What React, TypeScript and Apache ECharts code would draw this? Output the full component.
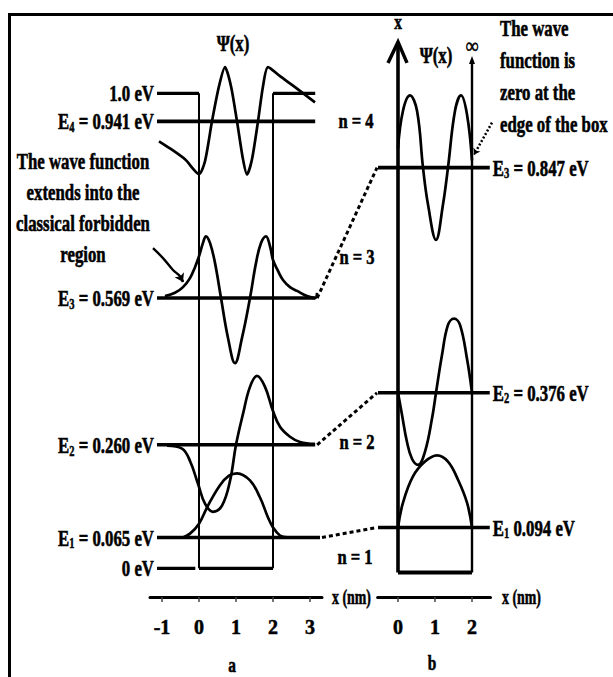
import React, { useEffect, useRef } from "react";
import * as echarts from "echarts";

// ---------- data ----------
// Panel a: finite square well, width 2 nm, barrier 1.0 eV
const barrierA = 1.0;
const wellEdges = [0, 2];
const levelsA = [0.065, 0.26, 0.569, 0.941];
const levelStartA = -1.135;
const levelEndA = [3.27, 3.14, 3.14, 3.14];
const zeroLeftEndA = -0.1;
const ticksA = [-1, 0, 1, 2, 3];

// Panel b: infinite square well, width 2 nm
const levelsB = [0.094, 0.376, 0.847];
const levelSpanB = [-0.54, 2.48];
const ticksB = [0, 1, 2];
const wallTopB = [1.11, 1.072];

// wave functions: [x (nm), offset from its own level (eV units of the drawing)]
const psiA1 = [[-0.432, 0], [-0.243, 0.008], [0, 0.029], [0.243, 0.067], [0.568, 0.11], [0.811, 0.13], [1.027, 0.135], [1.378, 0.12], [1.649, 0.084], [1.865, 0.042], [2, 0.021], [2.189, 0.004], [2.378, 0]];
const psiA2 = [[-0.865, -0.002], [-0.459, -0.008], [-0.243, -0.034], [-0.027, -0.082], [0.162, -0.124], [0.378, -0.141], [0.622, -0.128], [0.838, -0.076], [1.0, 0], [1.189, 0.065], [1.378, 0.122], [1.568, 0.145], [1.784, 0.122], [2, 0.071], [2.189, 0.038], [2.459, 0.017], [2.73, 0.006], [3.135, 0.002]];
const psiA3 = [[-0.919, 0.004], [-0.649, 0.011], [-0.432, 0.023], [-0.243, 0.042], [-0.108, 0.065], [0, 0.088], [0.108, 0.116], [0.189, 0.13], [0.297, 0.116], [0.432, 0.074], [0.595, 0], [0.784, -0.084], [0.973, -0.137], [1.162, -0.084], [1.378, 0], [1.541, 0.074], [1.676, 0.116], [1.811, 0.13], [1.919, 0.109], [2, 0.08], [2.135, 0.057], [2.27, 0.038], [2.459, 0.023], [2.649, 0.015], [2.919, 0.004], [3.135, 0], [3.19, 0.011]];
const psiA4 = [[-1.081, -0.042], [-0.784, -0.057], [-0.378, -0.08], [0, -0.111], [0.162, -0.084], [0.351, 0], [0.541, 0.074], [0.703, 0.114], [0.865, 0.074], [1.027, 0], [1.189, -0.08], [1.297, -0.112], [1.432, -0.08], [1.595, 0], [1.73, 0.074], [1.865, 0.114], [2.189, 0.095], [2.595, 0.072], [3.135, 0.04]];
const psiB1 = [[0, 0], [0.135, 0.052], [0.405, 0.107], [0.73, 0.138], [1.054, 0.151], [1.351, 0.138], [1.622, 0.1], [1.865, 0.052], [2, 0]];
const psiB2 = [[0, 0], [0.108, -0.046], [0.243, -0.103], [0.378, -0.138], [0.541, -0.151], [0.73, -0.123], [0.919, -0.054], [1.027, 0], [1.189, 0.079], [1.351, 0.142], [1.514, 0.155], [1.676, 0.142], [1.865, 0.071], [2, 0]];
const psiB3 = [[0, 0.04], [0.135, 0.119], [0.324, 0.151], [0.514, 0.119], [0.676, 0], [0.811, -0.077], [1.027, -0.151], [1.216, -0.077], [1.351, 0], [1.541, 0.119], [1.703, 0.151], [1.865, 0.111], [2, 0.015]];

// annotation pointers (relative to E3 of each panel)
const regionArrow = [[-0.514, 0.046], [-0.432, 0.034]];
const regionCurve = [[-1.243, 0.105], [-0.973, 0.084], [-0.703, 0.059], [-0.514, 0.046], [-0.432, 0.034]];
const edgePointer = [[2.54, 0.094], [2.054, 0.027]];

const leftNote = ["The wave function", "extends into the", "classical forbidden", "region"];
const rightNote = ["The wave", "function is", "zero at the", "edge of the box"];
const levelSepB = [" ", " = ", " = "];

// ---------- layout ----------
const W = 613;
const H = 677;
const GRID_TOP = 30;
const AXIS_Y = 597;
const A_LEFT = 150, A_WIDTH = 172, A_XMIN = -1.324, A_XMAX = 3.324, A_ZERO = 568.3, A_PX = 475;
const B_LEFT = 377.65, B_WIDTH = 112.85, B_XMIN = -0.55, B_XMAX = 2.5, B_ZERO = 572.5, B_PX = 478;

const FONT = "'Liberation Serif', 'Times New Roman', serif";
const SX = 0.7;
const WAVE_W = 2.7;

function lineS(data: number[][], width: number, gi: number, extra: any = {}) {
  return {
    type: "line",
    xAxisIndex: gi,
    yAxisIndex: gi,
    data,
    symbol: "none",
    showSymbol: false,
    silent: true,
    lineStyle: { color: "#000", width },
    z: 3,
    ...extra,
  };
}

function buildOption() {
  const series: any[] = [];
  // panel a
  levelsA.forEach((e, i) => series.push(lineS([[levelStartA, e], [levelEndA[i], e]], 3.6, 0)));
  series.push(lineS([[levelStartA, barrierA], [wellEdges[0], barrierA]], 3.2, 0));
  series.push(lineS([[wellEdges[1], barrierA], [levelEndA[3], barrierA]], 3.2, 0));
  series.push(lineS([[wellEdges[0], barrierA], [wellEdges[0], 0]], 2, 0));
  series.push(lineS([[wellEdges[1], 0], [wellEdges[1], barrierA]], 2, 0));
  series.push(lineS([[wellEdges[0], 0], [wellEdges[1], 0]], 3.2, 0));
  series.push(lineS([[levelStartA, 0], [zeroLeftEndA, 0]], 3.2, 0));
  [psiA1, psiA2, psiA3, psiA4].forEach((p, i) =>
    series.push(lineS(p.map(([x, d]) => [x, levelsA[i] + d]), WAVE_W, 0, { smooth: i === 3 ? 0.25 : 0.4 }))
  );
  series.push(lineS(regionCurve.map(([x, d]) => [x, levelsA[2] + d]), 2.4, 0, { smooth: 0.4 }));
  series.push({
    type: "lines",
    coordinateSystem: "cartesian2d",
    xAxisIndex: 0,
    yAxisIndex: 0,
    silent: true,
    clip: false,
    symbol: ["none", "arrow"],
    symbolSize: 8,
    lineStyle: { color: "#000", width: 2.4, opacity: 1 },
    data: [{ coords: regionArrow.map(([x, d]) => [x, levelsA[2] + d]) }],
    z: 4,
  });
  // panel b
  levelsB.forEach((e) => series.push(lineS([[levelSpanB[0], e], [levelSpanB[1], e]], 3.6, 1)));
  series.push(lineS([[wellEdges[0], 0], [wellEdges[0], wallTopB[0]]], 3.6, 1));
  series.push(lineS([[wellEdges[1], 0], [wellEdges[1], wallTopB[1]]], 2.4, 1));
  series.push(lineS([[wellEdges[0], 0], [wellEdges[1], 0]], 3.8, 1));
  [psiB1, psiB2, psiB3].forEach((p, i) =>
    series.push(lineS(p.map(([x, d]) => [x, levelsB[i] + d]), WAVE_W, 1, { smooth: 0.4 }))
  );
  series.push({
    type: "lines",
    coordinateSystem: "cartesian2d",
    xAxisIndex: 1,
    yAxisIndex: 1,
    silent: true,
    clip: false,
    symbol: ["none", "arrow"],
    symbolSize: 6,
    lineStyle: { color: "#000", width: 2.5, type: [2, 2], opacity: 1 },
    data: [{ coords: edgePointer.map(([x, d]) => [x, levelsB[2] + d]) }],
    z: 4,
  });

  const xAxisCommon = (min: number, max: number, gi: number, ticks: number[]) => ({
    type: "value",
    gridIndex: gi,
    min,
    max,
    splitLine: { show: false },
    axisLine: { show: true, onZero: false, lineStyle: { color: "#000", width: 3 } },
    axisTick: { show: true, customValues: ticks, length: 5, lineStyle: { color: "#444", width: 1.5 } },
    axisLabel: {
      show: true,
      customValues: ticks,
      formatter: (v: number) => String(v),
      fontFamily: FONT,
      fontWeight: "bold",
      fontSize: 20,
      color: "#000",
      textBorderColor: "#000",
      textBorderWidth: 0.5,
      margin: 20,
    },
  });

  return {
    animation: false,
    backgroundColor: "#fff",
    grid: [
      { left: A_LEFT, top: GRID_TOP, width: A_WIDTH, height: AXIS_Y - GRID_TOP, outerBoundsMode: "none", containLabel: false },
      { left: B_LEFT, top: GRID_TOP, width: B_WIDTH, height: AXIS_Y - GRID_TOP, outerBoundsMode: "none", containLabel: false },
    ],
    xAxis: [xAxisCommon(A_XMIN, A_XMAX, 0, ticksA), xAxisCommon(B_XMIN, B_XMAX, 1, ticksB)],
    yAxis: [
      { type: "value", gridIndex: 0, show: false, min: (A_ZERO - AXIS_Y) / A_PX, max: (A_ZERO - GRID_TOP) / A_PX, splitLine: { show: false } },
      { type: "value", gridIndex: 1, show: false, min: (B_ZERO - AXIS_Y) / B_PX, max: (B_ZERO - GRID_TOP) / B_PX, splitLine: { show: false } },
    ],
    series,
  };
}

function txt(x: number, y: number, text: string, align = "center", size = 24, rich?: any, sx = SX) {
  const style: any = {
    text,
    fontFamily: FONT,
    fontWeight: "bold",
    fontSize: size,
    fill: "#000",
    stroke: "#000",
    lineWidth: 0.6,
    align,
    verticalAlign: "middle",
  };
  if (rich) style.rich = rich;
  return { type: "text", x, y, scaleX: sx, silent: true, z: 10, style };
}

const RICH = {
  b: { fontFamily: FONT, fontWeight: "bold", fontSize: 24, fill: "#000", stroke: "#000", lineWidth: 0.6, lineHeight: 26 },
  s: { fontFamily: FONT, fontWeight: "bold", fontSize: 15, fill: "#000", stroke: "#000", lineWidth: 0.5, verticalAlign: "bottom", lineHeight: 26 },
};

function buildGraphic(chart: any) {
  const pa = (x: number, y: number) => chart.convertToPixel({ gridIndex: 0 }, [x, y]);
  const pb = (x: number, y: number) => chart.convertToPixel({ gridIndex: 1 }, [x, y]);
  const g: any[] = [];
  g.push({ type: "rect", shape: { x: 9.5, y: 14.5, width: 660, height: 720 }, style: { fill: "none", stroke: "#000", lineWidth: 3 }, silent: true, z: 10 });

  // left level labels (panel a)
  levelsA.forEach((e, i) => {
    const p = pa(levelStartA, e);
    g.push(txt(p[0] - 3, p[1], `{b|E}{s|${i + 1}}{b| = ${e.toFixed(3)} eV}`, "right", 24, RICH));
  });
  const p10 = pa(levelStartA, barrierA);
  g.push(txt(p10[0] - 3, p10[1], `${barrierA.toFixed(1)} eV`, "right"));
  const p0 = pa(levelStartA, 0);
  g.push(txt(p0[0] - 3, p0[1], "0 eV", "right"));

  // right level labels (panel b)
  levelsB.forEach((e, i) => {
    const p = pb(levelSpanB[1], e);
    g.push(txt(p[0] + 3, p[1], `{b|E}{s|${i + 1}}{b|${levelSepB[i]}${e.toFixed(3)} eV}`, "left", 24, RICH));
  });

  // dashed connectors between the two panels
  levelsB.forEach((e, i) => {
    const a = pa(levelEndA[i], levelsA[i]);
    const b = pb(levelSpanB[0], e);
    g.push({
      type: "line",
      shape: { x1: a[0] + 2, y1: a[1], x2: b[0] - 1, y2: b[1] },
      style: { stroke: "#000", lineWidth: 3, lineDash: [4, 3] },
      silent: true,
      z: 5,
    });
  });

  // axis arrow on left wall of panel b
  const tl = pb(wellEdges[0], wallTopB[0]);
  g.push({
    type: "polyline",
    shape: { points: [[tl[0] - 10, tl[1] + 21], [tl[0], tl[1]], [tl[0] + 9, tl[1] + 21]] },
    style: { stroke: "#000", lineWidth: 3.5, fill: "none", lineJoin: "miter" },
    silent: true,
    z: 5,
  });
  g.push(txt(tl[0], tl[1] - 20, "x", "center", 22));
  const tr = pb(wellEdges[1], wallTopB[1]);
  g.push({
    type: "polygon",
    shape: { points: [[tr[0], tr[1] - 4], [tr[0] - 3, tr[1] + 4], [tr[0] + 3, tr[1] + 4]] },
    style: { fill: "#000" },
    silent: true,
    z: 5,
  });
  g.push(txt(tr[0], tr[1] - 15, "\u221e", "center", 22, undefined, 0.8));

  // wave function headings
  g.push(txt(233, 43, "\u03a8(x)", "center", 24));
  g.push(txt(436, 55, "\u03a8(x)", "center", 24));

  // notes
  leftNote.forEach((s, i) => g.push(txt(83, 161 + i * 31, s, "center")));
  rightNote.forEach((s, i) => g.push(txt(500, 28 + i * 32, s, "left")));

  // quantum numbers
  g.push(txt(356, 121, "n = 4", "center", 22, undefined, 0.75));
  g.push(txt(357, 257, "n = 3", "center", 22, undefined, 0.75));
  g.push(txt(357, 442, "n = 2", "center", 22, undefined, 0.75));
  g.push(txt(355, 557, "n = 1", "center", 22, undefined, 0.75));

  // axis names and panel letters
  g.push(txt(332, AXIS_Y, "x (nm)", "left", 22, undefined, 0.63));
  g.push(txt(502, AXIS_Y, "x (nm)", "left", 22, undefined, 0.63));
  g.push(txt(232, 664, "a", "center", 22));
  g.push(txt(432, 662, "b", "center", 22));
  return g;
}

export default function App() {
  const ref = useRef<HTMLDivElement>(null);
  useEffect(() => {
    document.body.style.margin = "0";
    const chart = echarts.init(ref.current as HTMLDivElement, null, { renderer: "svg", width: W, height: H });
    chart.setOption(buildOption() as any);
    chart.setOption({ graphic: buildGraphic(chart) } as any);
    return () => chart.dispose();
  }, []);
  return <div ref={ref} style={{ width: W, height: H, position: "absolute", left: 0, top: 0 }} />;
}
